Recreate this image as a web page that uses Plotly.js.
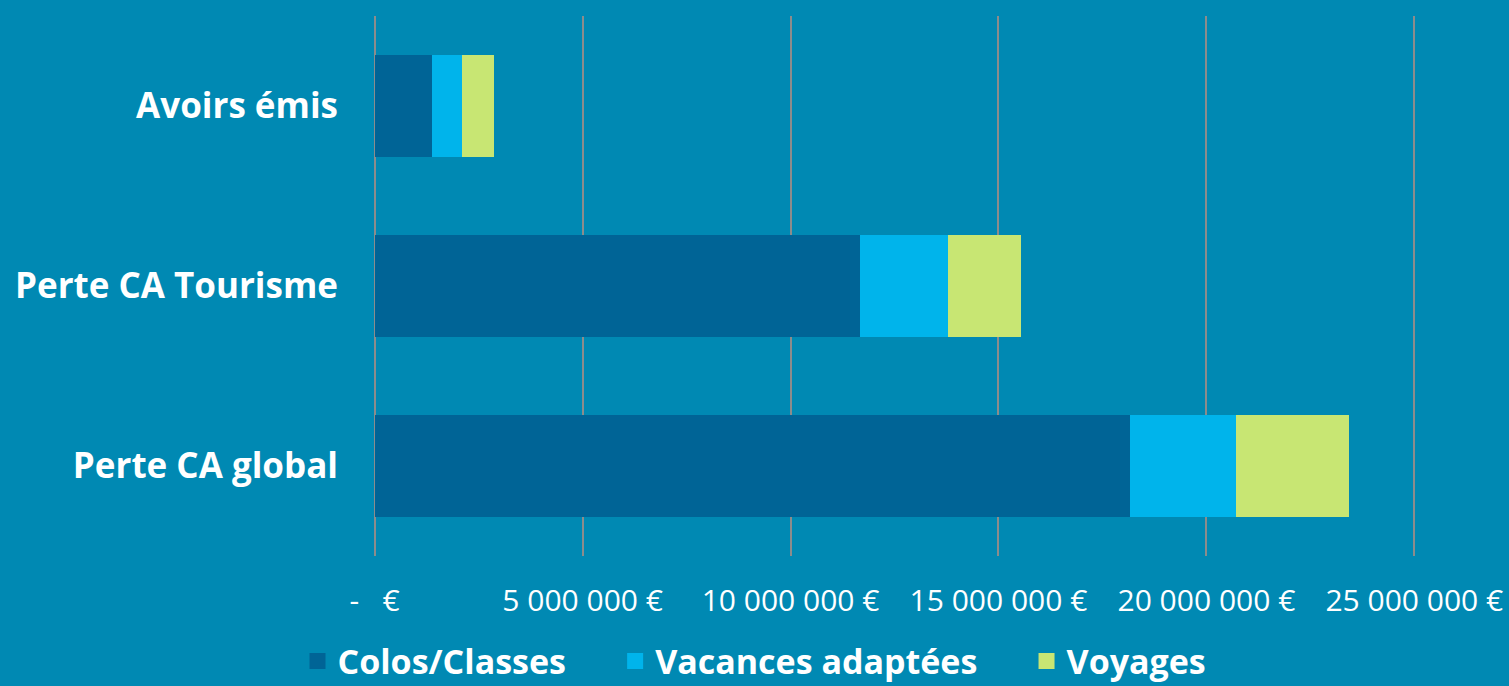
<!DOCTYPE html>
<html>
<head>
<meta charset="utf-8">
<script src="https://cdn.plot.ly/plotly-3.0.1.min.js"></script>
<style>html,body{margin:0;padding:0;background:#0089B3;}</style>
</head>
<body>
<div id="chart" style="width:1509px;height:686px;"></div>
<script>
const categories = ["Perte CA global", "Perte CA Tourisme", "Avoirs émis"];
const colosClasses = [18170000, 11670000, 1370000];
const vacancesAdaptees = [2530000, 2120000, 720000];
const voyages = [2740000, 1760000, 770000];
const seriesNames = ["Colos/Classes", "Vacances adaptées", "Voyages"];
const seriesColors = ["#006496", "#00B4EB", "#C8E673"];
const tickVals = [0, 5000000, 10000000, 15000000, 20000000, 25000000];
const tickText = ["-\u00a0\u00a0\u00a0€", "5 000 000 €", "10 000 000 €", "15 000 000 €", "20 000 000 €", "25 000 000 €"];

const seriesData = [colosClasses, vacancesAdaptees, voyages];
const font = "'Open Sans', 'Noto Sans', sans-serif";
const legendPad = "\u00a0\u00a0\u00a0\u00a0\u00a0";

const traces = [];
seriesData.forEach((vals, i) => {
  traces.push({
    type: "bar", orientation: "h", y: categories, x: vals,
    name: seriesNames[i], marker: {color: seriesColors[i]},
    width: 0.57, showlegend: false, hoverinfo: "x+name"
  });
});
// legend proxies with larger square symbols
seriesNames.forEach((n, i) => {
  traces.push({
    type: "scatter", mode: "markers", x: [null], y: [null],
    name: i < seriesNames.length - 1 ? n + legendPad : n,
    marker: {symbol: "square", size: 22, color: seriesColors[i]},
    showlegend: true
  });
});

const layout = {
  width: 1509, height: 686,
  paper_bgcolor: "#0089B3", plot_bgcolor: "#0089B3",
  margin: {l: 373, r: 93, t: 16, b: 130},
  barmode: "stack",
  font: {family: font, color: "#ffffff"},
  xaxis: {
    range: [-40000, 25040000], tickvals: tickVals, ticktext: tickText,
    showgrid: true, gridcolor: "#8C8C8C", gridwidth: 2,
    zeroline: true, zerolinecolor: "#8C8C8C", zerolinewidth: 2,
    showline: false, ticks: "",
    ticklabelstandoff: 24,
    tickfont: {family: font, size: 30, color: "#ffffff"}
  },
  yaxis: {
    categoryorder: "array", categoryarray: categories,
    range: [-0.5, 2.5], showgrid: false, zeroline: false, showline: false,
    ticks: "", ticklabelstandoff: 34,
    tickfont: {family: font, size: 35, color: "#ffffff", weight: "bold"}
  },
  legend: {
    orientation: "h", traceorder: "normal", xref: "container", yref: "container",
    x: 0.5, xanchor: "center", y: 0.036, yanchor: "middle",
    font: {family: font, size: 34, color: "#ffffff", weight: "bold"},
    itemwidth: 30, bgcolor: "rgba(0,0,0,0)"
  }
};

Plotly.newPlot("chart", traces, layout, {displayModeBar: false, responsive: false});
</script>
</body>
</html>
